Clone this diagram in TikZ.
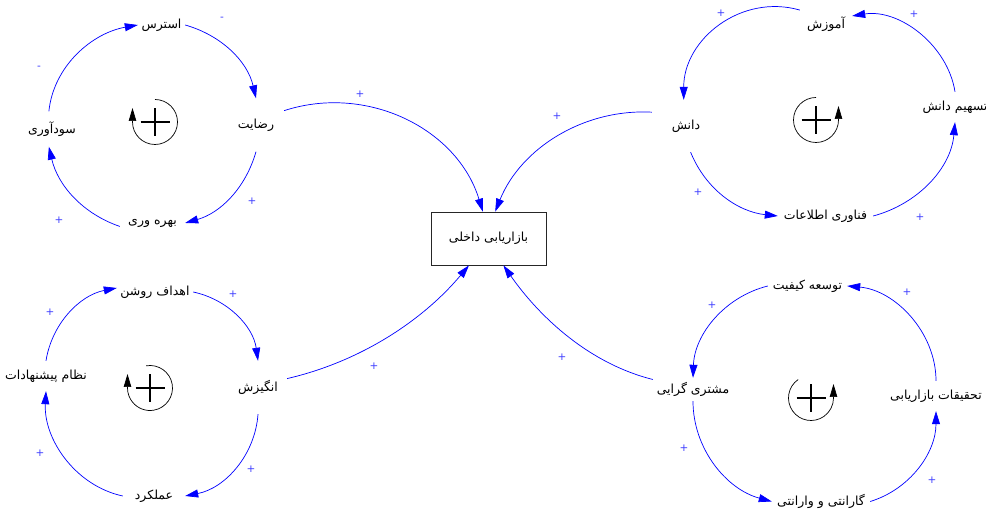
\documentclass[tikz,border=0pt]{standalone}
\usepackage{fontspec}
\newfontfamily\arabicfont[Script=Arabic]{DejaVu Sans}
\newfontfamily\polfont{DejaVu Sans}
\TeXXeTstate=1
\usetikzlibrary{arrows.meta}
\definecolor{polblue}{RGB}{60,60,255}
\newcommand{\fa}[1]{\makebox[0pt]{\arabicfont\fontsize{12.5}{14}\selectfont\beginR #1\endR}}
\begin{document}
\begin{tikzpicture}[x=1pt,y=1pt,
  var/.style 2 args={rectangle, inner sep=0pt, minimum width=#1pt, minimum height=#2pt},
  link/.style={draw=blue, line width=0.7pt, -{Triangle[length=13pt,width=8pt]}, fill=none, looseness=0.95},
  pol/.style={text=polblue, font=\polfont\fontsize{10.5}{12}\selectfont, inner sep=0pt},
  loopar/.style={black, line width=0.7pt, -{Triangle[length=13pt,width=7.5pt]}},
  plusmark/.style={black, line width=1.6pt}]
\useasboundingbox (0,0) rectangle (986,513);
% loop 1
\node[var={47}{20}] (n11) at (161.5,488) {\fa{استرس}};
\node[var={56}{53}] (n12) at (256,388) {\fa{رضایت}};
\node[var={65}{20}] (n13) at (152.5,290) {\fa{بهره وری}};
\node[var={52}{35}] (n14) at (52,384) {\fa{سودآوری}};
% loop 2
\node[var={52}{32}] (n21) at (826,489) {\fa{آموزش}};
\node[var={68}{52}] (n22) at (686,387) {\fa{دانش}};
\node[var={95}{20}] (n23) at (825.5,297) {\fa{فناوری اطلاعات}};
\node[var={60}{30}] (n24) at (955,406) {\fa{تسهیم دانش}};
% loop 3
\node[var={76}{20}] (n31) at (155,221) {\fa{اهداف روشن}};
\node[var={58}{53}] (n32) at (258,125.5) {\fa{انگیزش}};
\node[var={62}{20}] (n33) at (154,17) {\fa{عملکرد}};
\node[var={80}{30}] (n34) at (46,137) {\fa{نظام پیشنهادات}};
% loop 4
\node[var={79}{20}] (n41) at (807.5,227) {\fa{توسعه کیفیت}};
\node[var={80}{23}] (n42) at (693,123.5) {\fa{مشتری گرایی}};
\node[var={98}{20}] (n43) at (821,11.5) {\fa{گارانتی و وارانتی}};
\node[var={96}{30}] (n44) at (936,117) {\fa{تحقیقات بازاریابی}};
% centre
\node[draw=black!85, line width=0.8pt, minimum width=115pt, minimum height=53pt, inner sep=0pt] (box) at (488.5,274.5) {\fa{بازاریابی داخلی}};

% loop 1 links
\draw[link] (n11.east) to[out=-16,in=103] (n12.north);
\draw[link] (n12.south) to[out=-106,in=16] (n13.east);
\draw[link] (n13.186) to[out=161,in=-77] (n14.260);
\draw[link] (n14.100) to[out=84,in=-170] (n11.west);
% loop 2 links
\draw[link] (n24.north) to[out=99,in=9] (n21.17);
\draw[link,looseness=1.06] (n21.152) to[out=164,in=90] (n22.95);
\draw[link] (n22.280) to[out=-68,in=174] (n23.west);
\draw[link] (n23.east) to[out=15,in=-95] (n24.south);
% loop 3 links
\draw[link] (n31.east) to[out=-12,in=98] (n32.north);
\draw[link] (n32.south) to[out=-94,in=11] (n33.east);
\draw[link] (n33.west) to[out=168,in=-93] (n34.south);
\draw[link] (n34.north) to[out=81,in=191] (n31.174);
% loop 4 links
\draw[link] (n44.north) to[out=90,in=-5] (n41.east);
\draw[link] (n41.west) to[out=194,in=88] (n42.north);
\draw[link] (n42.south) to[out=-90,in=165] (n43.west);
\draw[link] (n43.east) to[out=17,in=270] (n44.south);
% links to centre
\draw[link,looseness=1] (n12.27) to[out=18,in=107] (box.102);
\draw[link,looseness=0.94] (n22.158) to[out=177,in=68] (box.76);
\draw[link,looseness=0.88] (n32.17) to[out=13,in=230] (box.234);
\draw[link,looseness=0.88] (n42.166) to[out=166,in=-55] (box.299);

% polarities
\node[pol] (p1) at (222,494) {-};
\node[pol] (p2) at (252,312) {+};
\node[pol] (p3) at (59,293) {+};
\node[pol] (p4) at (39,445) {-};
\node[pol] (p5) at (914,499) {+};
\node[pol] (p6) at (721,500) {+};
\node[pol] (p7) at (698,321) {+};
\node[pol] (p8) at (920,296) {+};
\node[pol] (p9) at (233,219) {+};
\node[pol] (p10) at (251,44) {+};
\node[pol] (p11) at (40,60) {+};
\node[pol] (p12) at (50,201) {+};
\node[pol] (p13) at (907,221) {+};
\node[pol] (p14) at (712,208) {+};
\node[pol] (p15) at (684,65) {+};
\node[pol] (p16) at (932,33) {+};
\node[pol] (p17) at (360,419) {+};
\node[pol] (p18) at (557,397) {+};
\node[pol] (p19) at (374,147) {+};
\node[pol] (p20) at (562,156) {+};

% loop symbols
\coordinate (L1) at (155,391);
\coordinate (L2) at (816,393);
\coordinate (L3) at (150,125);
\coordinate (L4) at (811,115);
\draw[loopar] (L1) ++(90:22.5) arc[start angle=90,end angle=-180,radius=22.5] -- ++(0,14);
\draw[loopar] (L2) ++(90:22.5) arc[start angle=90,end angle=360,radius=22.5] -- ++(0,14);
\draw[loopar] (L3) ++(100:22.5) arc[start angle=100,end angle=-180,radius=22.5] -- ++(0,14);
\draw[loopar] (L4) ++(125:22.5) arc[start angle=125,end angle=360,radius=22.5] -- ++(0,14);
\draw[plusmark] (L1) ++(-14.5,0) -- ++(29,0) (L1) ++(0,-14) -- ++(0,28);
\draw[plusmark] (L2) ++(-14.5,0) -- ++(29,0) (L2) ++(0,-14) -- ++(0,28);
\draw[plusmark] (L3) ++(-14.5,0) -- ++(29,0) (L3) ++(0,-14) -- ++(0,28);
\draw[plusmark] (L4) ++(-14.5,0) -- ++(29,0) (L4) ++(0,-14) -- ++(0,28);
\end{tikzpicture}
\end{document}
